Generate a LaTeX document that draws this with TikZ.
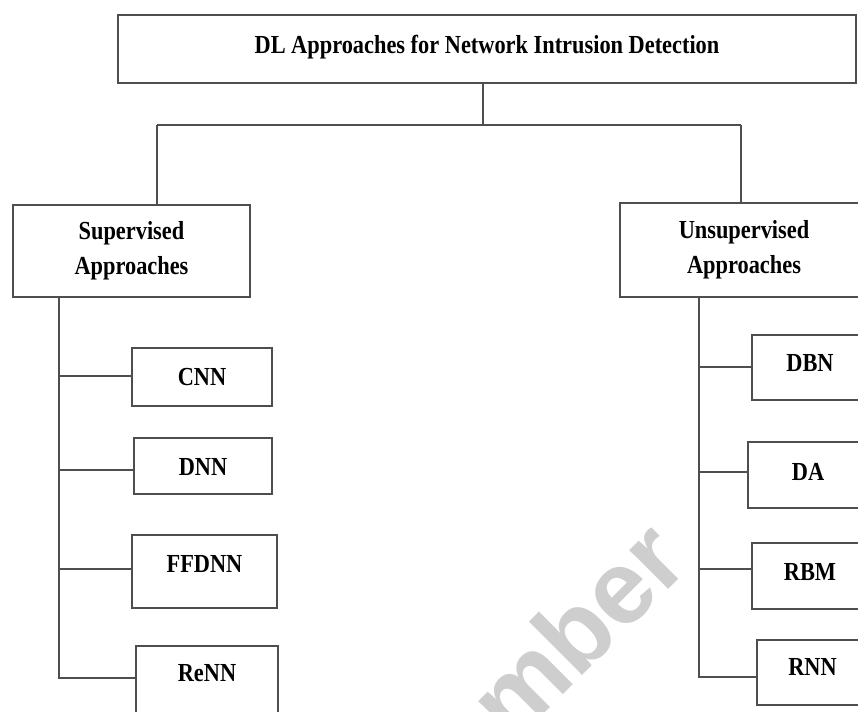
\documentclass[tikz,border=0pt]{standalone}
\usepackage{fontspec}
\setmainfont{Liberation Serif}[FakeStretch=0.86]
\newfontfamily\wmfont{Liberation Sans}
\definecolor{linegray}{RGB}{78,78,78}
\definecolor{wmgray}{RGB}{206,206,206}
\begin{document}
\begin{tikzpicture}[x=1pt,y=-1pt,
  frame/.style={draw=linegray, line width=2pt, fill=white, inner sep=0pt,
    font=\fontsize{26}{35}\selectfont\bfseries, align=center},
  leaf/.style={frame, text height=18pt, text depth=#1},
  leaf/.default=6pt,
  link/.style={draw=linegray, line width=1.8pt},
  wm/.style={text=wmgray, font=\wmfont\fontsize{104}{104}\selectfont\bfseries, inner sep=0pt}]
\useasboundingbox (0,0) rectangle (858,711);
\clip (0,0) rectangle (858,711);
\fill[white] (0,0) rectangle (858,711);

% background watermark
\node[wm, rotate=45, anchor=base east] (mark) at (692,566) {mber};

% title and the two families
\node[leaf=8.8pt, minimum width=738pt, minimum height=68pt] (title) at (487,49)
  {DL Approaches for Network Intrusion Detection};
\node[frame, minimum width=237pt, minimum height=92pt] (sup) at (131.5,251)
  {Supervised\\Approaches};
\node[frame, minimum width=248pt, minimum height=94pt] (unsup) at (744,250)
  {Unsupervised\\Approaches};

% supervised methods
\node[leaf=0.8pt, minimum width=140pt, minimum height=58pt] (cnn) at (202,377) {CNN};
\node[leaf=0pt, minimum width=138pt, minimum height=56pt] (dnn) at (203,466) {DNN};
\node[leaf=16.8pt, minimum width=145pt, minimum height=73pt] (ffdnn) at (204.5,571.5) {FFDNN};
\node[leaf=16.8pt, minimum width=142pt, minimum height=70pt] (renn) at (207,681) {ReNN};

% unsupervised methods
\node[leaf=9.8pt, minimum width=116pt, minimum height=65pt] (dbn) at (810,367.5) {DBN};
\node[leaf=6.8pt, minimum width=120pt, minimum height=66pt] (da) at (808,475) {DA};
\node[leaf=8.8pt, minimum width=116pt, minimum height=66pt] (rbm) at (810,576) {RBM};
\node[leaf=11.8pt, minimum width=111pt, minimum height=65pt] (rnn) at (812.5,672.5) {RNN};

% tree connectors from the title
\coordinate (hub) at (483,125);
\coordinate (barL) at (157,125);
\coordinate (barR) at (741,125);
\draw[link] (title.south -| hub) -- (hub);
\draw[link] (barL) -- (barR);
\draw[link] (barL) -- (barL |- sup.north);
\draw[link] (barR) -- (barR |- unsup.north);

% left trunk and branches
\coordinate (l1) at (59,376);
\coordinate (l2) at (59,470);
\coordinate (l3) at (59,569);
\coordinate (l4) at (59,678);
\draw[link] (sup.south -| l1) -- (l4) -- (l4 -| renn.west);
\draw[link] (l1) -- (l1 -| cnn.west);
\draw[link] (l2) -- (l2 -| dnn.west);
\draw[link] (l3) -- (l3 -| ffdnn.west);

% right trunk and branches
\coordinate (r1) at (699,367);
\coordinate (r2) at (699,472);
\coordinate (r3) at (699,569);
\coordinate (r4) at (699,677);
\draw[link] (unsup.south -| r1) -- (r4) -- (r4 -| rnn.west);
\draw[link] (r1) -- (r1 -| dbn.west);
\draw[link] (r2) -- (r2 -| da.west);
\draw[link] (r3) -- (r3 -| rbm.west);
\end{tikzpicture}
\end{document}
